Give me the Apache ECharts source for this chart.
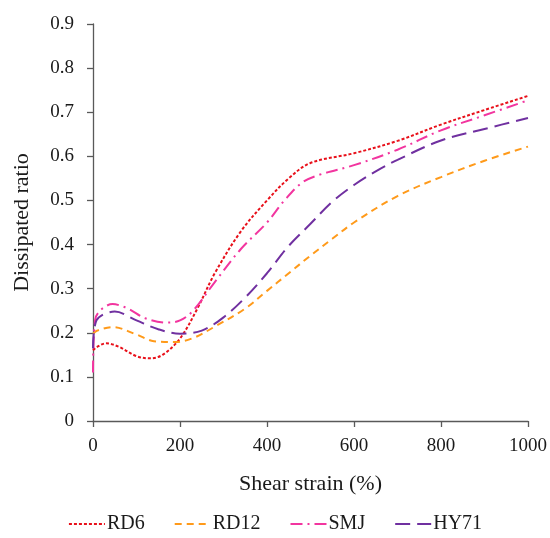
<!DOCTYPE html>
<html>
<head>
<meta charset="utf-8">
<script src="https://cdn.jsdelivr.net/npm/echarts@6/dist/echarts.min.js"></script>
<style>
  html, body { margin: 0; padding: 0; background: #fff; }
  #chart { width: 550px; height: 538px; }
</style>
</head>
<body>
<div id="chart"></div>
<script>
// values (shear strain %, dissipated ratio)
const rd6Strain  = [0, 8, 30, 60, 100, 130, 160, 200, 240, 280, 340, 400, 450, 500, 600, 700, 800, 900, 1000];
const rd6Ratio   = [0.16, 0.167, 0.176, 0.168, 0.147, 0.142, 0.150, 0.187, 0.255, 0.335, 0.43, 0.50, 0.55, 0.585, 0.607, 0.635, 0.672, 0.705, 0.737];

const rd12Strain = [0, 10, 45, 100, 140, 190, 230, 280, 350, 400, 450, 500, 550, 600, 700, 800, 900, 1000];
const rd12Ratio  = [0.198, 0.205, 0.213, 0.196, 0.181, 0.179, 0.188, 0.214, 0.255, 0.295, 0.335, 0.375, 0.413, 0.45, 0.51, 0.553, 0.59, 0.622];

const smjStrain  = [0, 5, 45, 80, 120, 170, 200, 230, 280, 340, 400, 440, 480, 520, 600, 700, 800, 900, 1000];
const smjRatio   = [0.11, 0.23, 0.265, 0.255, 0.233, 0.223, 0.228, 0.25, 0.315, 0.39, 0.45, 0.50, 0.54, 0.558, 0.58, 0.615, 0.659, 0.693, 0.727];

const hy71Strain = [0, 8, 50, 100, 150, 200, 250, 300, 350, 400, 450, 500, 550, 600, 650, 700, 800, 900, 1000];
const hy71Ratio  = [0.165, 0.228, 0.248, 0.228, 0.208, 0.198, 0.205, 0.235, 0.28, 0.335, 0.397, 0.447, 0.497, 0.535, 0.566, 0.592, 0.636, 0.662, 0.687];

const xTicks = [0, 200, 400, 600, 800, 1000];

const pairs = (xs, ys) => xs.map((x, i) => [x, ys[i]]);
const font = 'Liberation Serif';
const axisColor = '#595959';
const textColor = '#1a1a1a';

const chart = echarts.init(document.getElementById('chart'), null, { renderer: 'canvas' });

function mkSeries(name, xs, ys, color, dash) {
    return {
        name: name,
        type: 'line',
        smooth: 0.35,
        symbol: 'none',
        data: pairs(xs, ys),
        lineStyle: { color: color, width: 2, type: dash },
        itemStyle: { color: color }
    };
}

chart.setOption({
    animation: false,
    textStyle: { fontFamily: font },
    grid: { left: 93, right: 22, top: 24, bottom: 117 },
    legend: {
        top: 509,
        left: 'center',
        itemWidth: 36,
        itemHeight: 12,
        itemGap: 29,
        itemStyle: { opacity: 0 },
        textStyle: { fontFamily: font, fontSize: 20, color: textColor, padding: [0, 0, 0, -3] },
        data: ['RD6', 'RD12', 'SMJ', 'HY71']
    },
    xAxis: {
        type: 'value',
        min: 0,
        max: 1000,
        interval: 200,
        name: 'Shear strain (%)',
        nameLocation: 'middle',
        nameGap: 52,
        nameTextStyle: { fontFamily: font, fontSize: 22, color: textColor },
        axisLine: { show: true, lineStyle: { color: axisColor, width: 1.3 } },
        axisTick: { show: true, inside: false, length: 6, lineStyle: { color: axisColor, width: 1.3 } },
        axisLabel: { fontFamily: font, fontSize: 19, color: textColor, margin: 16,
            formatter: v => xTicks.includes(v) ? String(v) : '' },
        splitLine: { show: false }
    },
    yAxis: {
        type: 'value',
        min: 0,
        max: 0.9,
        interval: 0.1,
        name: 'Dissipated ratio',
        nameLocation: 'middle',
        nameGap: 60,
        nameTextStyle: { fontFamily: font, fontSize: 22, color: textColor },
        axisLine: { show: true, lineStyle: { color: axisColor, width: 1.3 } },
        axisTick: { show: true, inside: false, length: 6, lineStyle: { color: axisColor, width: 1.3 } },
        axisLabel: { fontFamily: font, fontSize: 19, color: textColor, margin: 19,
            formatter: v => v === 0 ? '0' : v.toFixed(1) },
        splitLine: { show: false }
    },
    series: [
        mkSeries('RD6', rd6Strain, rd6Ratio, '#e8101a', [3, 2]),
        mkSeries('RD12', rd12Strain, rd12Ratio, '#ff9a1a', [7, 5]),
        mkSeries('SMJ', smjStrain, smjRatio, '#f2359f', [12, 5, 2, 5]),
        mkSeries('HY71', hy71Strain, hy71Ratio, '#7030a0', [15, 7])
    ]
});
</script>
</body>
</html>
